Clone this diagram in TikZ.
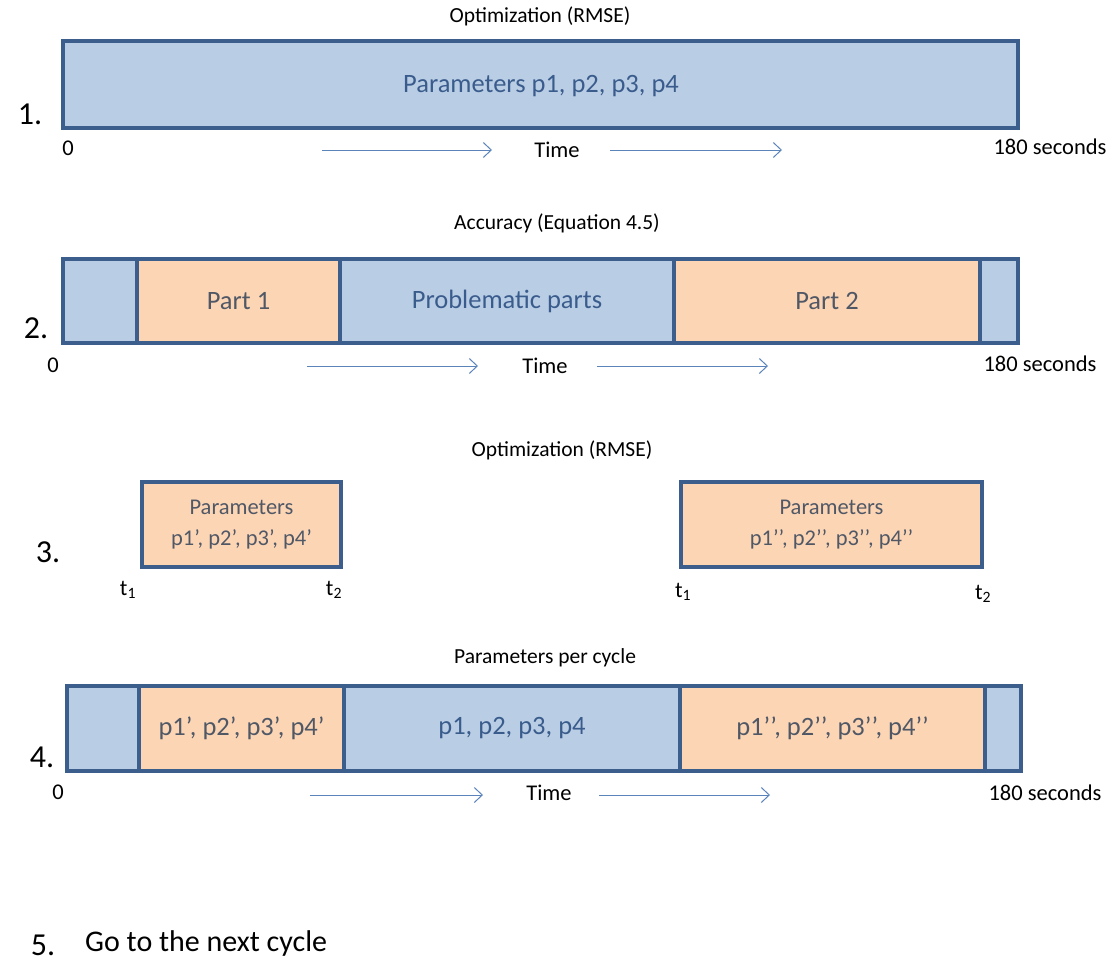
\documentclass[tikz,border=0pt]{standalone}
\usepackage{fontspec}
\setmainfont{Carlito}
\usetikzlibrary{arrows.meta}

\definecolor{barblue}{HTML}{B9CDE5}
\definecolor{barorange}{HTML}{FCD5B5}
\definecolor{barline}{HTML}{3B5E8C}
\definecolor{bluetext}{HTML}{3A5C8C}
\definecolor{greytext}{HTML}{505866}
\definecolor{arrowblue}{HTML}{5B84BA}

\newcommand{\fs}[1]{\fontsize{#1}{#1}\selectfont}

\tikzset{
  seg/.style={draw=barline, line width=3.6pt, inner sep=0pt, outer sep=0pt, rectangle},
  bseg/.style={seg, fill=barblue},
  oseg/.style={seg, fill=barorange},
  heading/.style={font=\fs{21.5}, text=black, inner sep=0pt},
  rownum/.style={font=\fs{32}, text=black, inner sep=0pt},
  axislabel/.style={font=\fs{22.5}, text=black, inner sep=0pt},
  bigtext/.style={font=\fs{26.5}, text=bluetext, inner sep=0pt},
  greybig/.style={font=\fs{26.5}, text=greytext, inner sep=0pt},
  smalltext/.style={font=\fs{22.5}, text=greytext, inner sep=0pt, align=center},
  timearrow/.style={draw=arrowblue, line width=1pt, -{Straight Barb[length=8pt, width=15pt, line width=1pt]}}
}

\begin{document}
\begin{tikzpicture}[x=1pt, y=-1pt]
\useasboundingbox (0,0) rectangle (1115,963);

% ---- 1. one optimisation over the whole cycle
\node[heading] (h1) at (540,16) {Optimization (RMSE)};
\node[bseg, minimum width=955, minimum height=87] (r1) at (540.5,84.5) {};
\node[bigtext] (r1t) at (541,86) {Parameters p1, p2, p3, p4};
\node[rownum] (n1) at (30,114) {1.};
\node[axislabel] (z1) at (68,148) {0};
\node[axislabel] (t1) at (557,150) {Time};
\node[axislabel] (e1) at (1050,147) {180 seconds};
\coordinate (a1s) at (322,150); \coordinate (a1e) at (492,150);
\coordinate (a1s2) at (610,150); \coordinate (a1e2) at (782,150);
\draw[timearrow] (a1s) -- (a1e);
\draw[timearrow] (a1s2) -- (a1e2);

% ---- 2. accuracy check splits the cycle
\node[heading] (h2) at (557,223) {Accuracy (Equation 4.5)};
\node[bseg, minimum width=74, minimum height=84] (r2a) at (100,301) {};
\node[oseg, minimum width=203, minimum height=84] (r2b) at (238.5,301) {};
\node[bseg, minimum width=334, minimum height=84] (r2c) at (507,301) {};
\node[oseg, minimum width=306, minimum height=84] (r2d) at (827,301) {};
\node[bseg, minimum width=38, minimum height=84] (r2e) at (999,301) {};
\node[greybig] (r2bt) at (r2b) {Part 1};
\node[bigtext] (r2ct) at (r2c) {Problematic parts};
\node[greybig] (r2dt) at (r2d) {Part 2};
\node[rownum] (n2) at (36,328) {2.};
\node[axislabel] (z2) at (53,365) {0};
\node[axislabel] (t2) at (545,366) {Time};
\node[axislabel] (e2) at (1040,364) {180 seconds};
\coordinate (a2s) at (307,366); \coordinate (a2e) at (478,366);
\coordinate (a2s2) at (597,366); \coordinate (a2e2) at (768,366);
\draw[timearrow] (a2s) -- (a2e);
\draw[timearrow] (a2s2) -- (a2e2);

% ---- 3. separate optimisation of each part
\node[heading] (h3) at (562,450) {Optimization (RMSE)};
\node[oseg, minimum width=199, minimum height=85] (r3a) at (241.5,524.5) {};
\node[oseg, minimum width=301, minimum height=85] (r3b) at (831.5,524.5) {};
\node[smalltext] (r3at) at (r3a) {Parameters\\[8pt]p1’, p2’, p3’, p4’};
\node[smalltext] (r3bt) at (r3b) {Parameters\\[8pt]p1’{}’, p2’{}’, p3’{}’, p4’{}’};
\node[rownum] (n3) at (48,552) {3.};
\node[axislabel] (s1a) at (128,590) {t\textsubscript{1}};
\node[axislabel] (s2a) at (334,590) {t\textsubscript{2}};
\node[axislabel] (s1b) at (683,592) {t\textsubscript{1}};
\node[axislabel] (s2b) at (983,594) {t\textsubscript{2}};

% ---- 4. resulting parameters per cycle
\node[heading] (h4) at (545,658) {Parameters per cycle};
\node[bseg, minimum width=72, minimum height=85] (r4a) at (103,728.5) {};
\node[oseg, minimum width=205, minimum height=85] (r4b) at (241.5,728.5) {};
\node[bseg, minimum width=336, minimum height=85] (r4c) at (512,728.5) {};
\node[oseg, minimum width=305, minimum height=85] (r4d) at (832.5,728.5) {};
\node[bseg, minimum width=36, minimum height=85] (r4e) at (1003,728.5) {};
\node[greybig] (r4bt) at (r4b) {p1’, p2’, p3’, p4’};
\node[bigtext] (r4ct) at (r4c) {p1, p2, p3, p4};
\node[greybig] (r4dt) at (r4d) {p1’{}’, p2’{}’, p3’{}’, p4’{}’};
\node[rownum] (n4) at (42,757) {4.};
\node[axislabel] (z4) at (58,792) {0};
\node[axislabel] (t4) at (549,793) {Time};
\node[axislabel] (e4) at (1045,793) {180 seconds};
\coordinate (a4s) at (310,795); \coordinate (a4e) at (483,795);
\coordinate (a4s2) at (599,795); \coordinate (a4e2) at (770,795);
\draw[timearrow] (a4s) -- (a4e);
\draw[timearrow] (a4s2) -- (a4e2);

% ---- 5. next cycle
\node[rownum] (n5) at (43,945) {5.};
\node[font=\fs{30}, inner sep=0pt, anchor=west] (g5) at (85,943) {Go to the next cycle};
\end{tikzpicture}
\end{document}
